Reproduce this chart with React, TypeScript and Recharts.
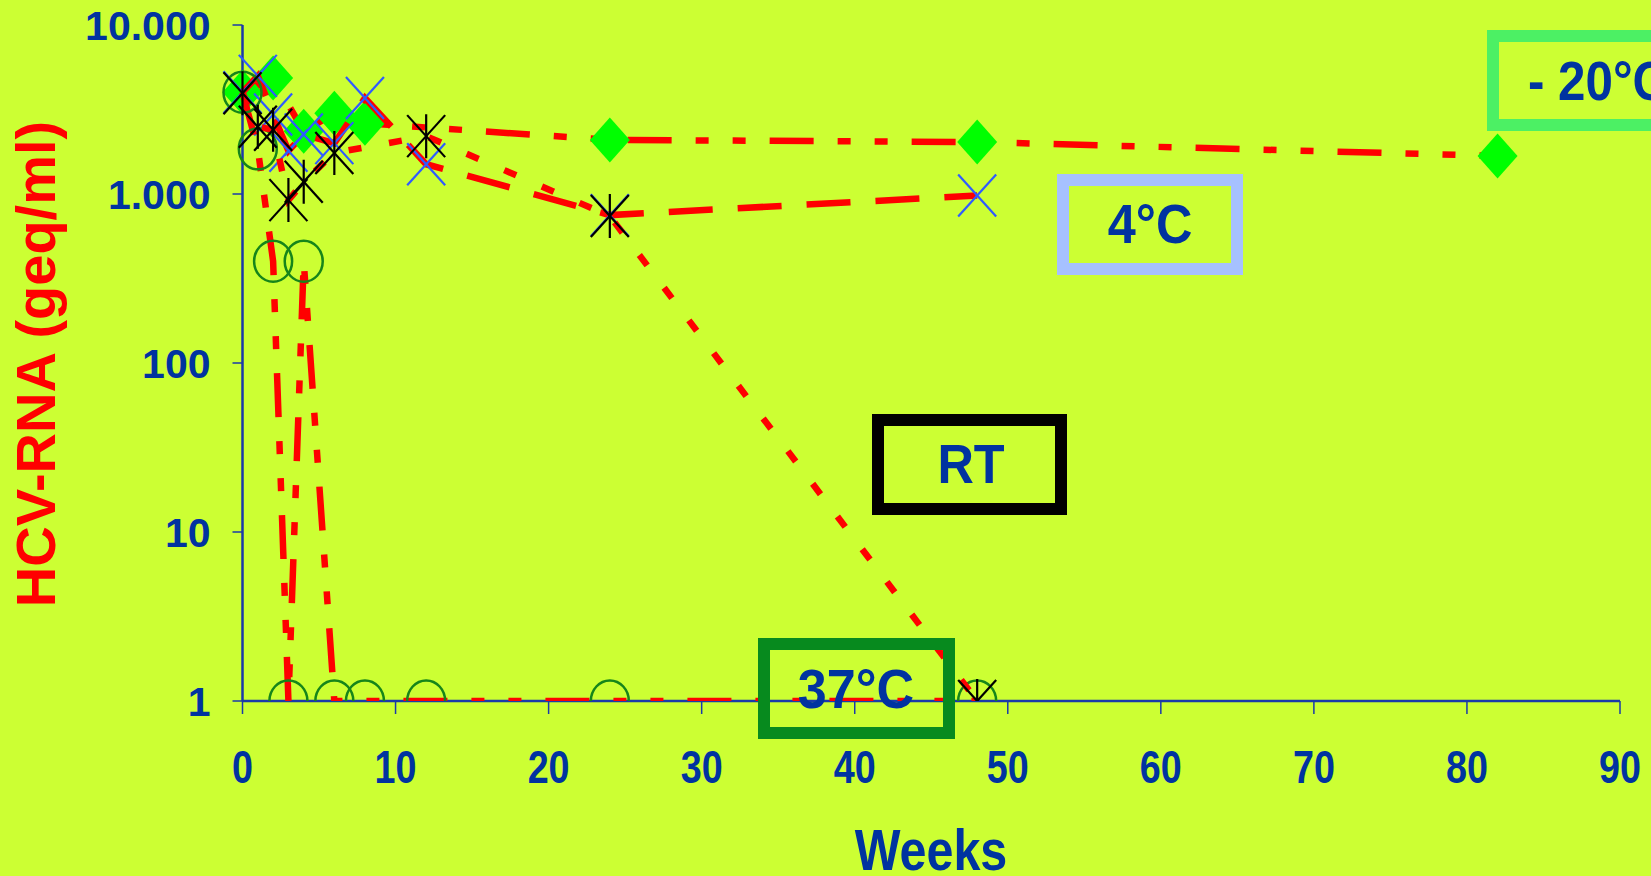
import React from 'react';
import { ScatterChart, Scatter, XAxis, YAxis } from 'recharts';

// weeks of storage and HCV-RNA (geq/ml) per temperature
const weeksMinus20 = [0, 2, 4, 6, 8, 24, 48, 82];
const rnaMinus20 = [4000, 4850, 2350, 3000, 2620, 2090, 2030, 1680];

const weeks4 = [0, 1, 2, 3, 4, 6, 8, 12, 24, 48];
const rna4 = [4000, 5000, 2950, 1800, 2250, 2000, 3700, 1500, 750, 980];

const weeksRT = [0, 1, 2, 3, 4, 6, 12, 24, 48];
const rnaRT = [3950, 2500, 2400, 920, 1180, 1750, 2200, 740, 1];

const weeks37 = [0, 1, 2, 3, 4, 6, 8, 12, 24, 48];
const rna37 = [4000, 1850, 400, 1, 400, 1, 1, 1, 1, 1];

const xTicks = [0, 10, 20, 30, 40, 50, 60, 70, 80, 90];
const yTicks = [1, 10, 100, 1000, 10000];

const toPoints = (weeks: number[], rna: number[]) =>
  weeks.map((w, i) => ({ week: w, rna: rna[i] }));

const BG = '#CCFF33';
const AXIS = '#1A3AAA';
const TEXT = '#0033A0';
const RED = '#FF0000';
const FONT = '"Liberation Sans", Arial, sans-serif';

const Diamond = (p: any) => {
  const { cx, cy } = p;
  return (
    <polygon
      points={`${cx},${cy - 22.5} ${cx + 20},${cy} ${cx},${cy + 22.5} ${cx - 20},${cy}`}
      fill="#00FF00"
    />
  );
};

const Cross = (p: any) => {
  const { cx, cy } = p;
  return (
    <g stroke="#2F5BFF" strokeWidth={2.2}>
      <line x1={cx - 19} y1={cy - 21} x2={cx + 19} y2={cy + 21} />
      <line x1={cx + 19} y1={cy - 21} x2={cx - 19} y2={cy + 21} />
    </g>
  );
};

const Star = (p: any) => {
  const { cx, cy } = p;
  return (
    <g stroke="#000000" strokeWidth={2.2}>
      <line x1={cx - 19} y1={cy - 21} x2={cx + 19} y2={cy + 21} />
      <line x1={cx + 19} y1={cy - 21} x2={cx - 19} y2={cy + 21} />
      <line x1={cx} y1={cy - 22} x2={cx} y2={cy + 22} />
    </g>
  );
};

const Ring = (p: any) => {
  const { cx, cy } = p;
  return <ellipse cx={cx} cy={cy} rx={19} ry={20.5} fill="none" stroke="#16851A" strokeWidth={2.5} />;
};

const XTick = (p: any) => {
  const { x, y, payload } = p;
  return (
    <g transform={`translate(${x},${y})`}>
      <text
        transform="scale(0.82,1)"
        textAnchor="middle"
        dy="0.71em"
        fontSize={46}
        fontWeight="bold"
        fontFamily={FONT}
        fill={TEXT}
      >
        {payload.value}
      </text>
    </g>
  );
};

const fmtY = (v: number) => String(v).replace(/\B(?=(\d{3})+(?!\d))/g, '.');

const boxText = {
  fontSize: 56,
  fontWeight: 'bold' as const,
  fontFamily: FONT,
  fill: TEXT,
};

export default function App() {
  return (
    <div
      style={{
        position: 'absolute',
        left: 0,
        top: 0,
        width: 1651,
        height: 876,
        background: BG,
        overflow: 'hidden',
      }}
    >
      <ScatterChart
        width={1651}
        height={876}
        margin={{ top: 25, right: 31, bottom: 75, left: 42.5 }}
      >
        <XAxis
          type="number"
          dataKey="week"
          domain={[0, 90]}
          ticks={xTicks}
          height={100}
          axisLine={{ stroke: AXIS, strokeWidth: 2.5 }}
          tickLine={{ stroke: AXIS, strokeWidth: 1.5 }}
          tickSize={13}
          tickMargin={36}
          tick={<XTick />}
        />
        <YAxis
          type="number"
          dataKey="rna"
          scale="log"
          domain={[1, 10000]}
          allowDataOverflow
          ticks={yTicks}
          width={200}
          axisLine={{ stroke: AXIS, strokeWidth: 2.5 }}
          tickLine={{ stroke: AXIS, strokeWidth: 1.5 }}
          tickSize={10}
          tickMargin={22}
          tickFormatter={fmtY}
          tick={{ fill: TEXT, fontSize: 41, fontWeight: 'bold', fontFamily: FONT }}
        />
        <Scatter
          data={toPoints(weeksMinus20, rnaMinus20)}
          fill={RED}
          line={{ stroke: RED, strokeWidth: 6.5, strokeDasharray: '44 24 13 24 13 24' }}
          shape={<Diamond />}
          isAnimationActive={false}
        />
        <Scatter
          data={toPoints(weeks4, rna4)}
          fill={RED}
          line={{ stroke: RED, strokeWidth: 6.5, strokeDasharray: '44 25' }}
          shape={<Cross />}
          isAnimationActive={false}
        />
        <Scatter
          data={toPoints(weeks37, rna37)}
          fill={RED}
          line={{ stroke: RED, strokeWidth: 6.5, strokeDasharray: '44 24 13 24 13 24' }}
          shape={<Ring />}
          isAnimationActive={false}
        />
        <Scatter
          data={toPoints(weeksRT, rnaRT)}
          fill={RED}
          line={{ stroke: RED, strokeWidth: 6.5, strokeDasharray: '13 28' }}
          shape={<Star />}
          isAnimationActive={false}
        />
      </ScatterChart>

      <svg
        width={1651}
        height={876}
        style={{ position: 'absolute', left: 0, top: 0, pointerEvents: 'none' }}
      >
        <text
          transform="translate(55,364) rotate(-90)"
          textAnchor="middle"
          fontSize={56}
          fontWeight="bold"
          fontFamily={FONT}
          fill={RED}
        >
          HCV-RNA (geq/ml)
        </text>
        <text
          transform="translate(931,870) scale(0.85,1)"
          textAnchor="middle"
          fontSize={57}
          fontWeight="bold"
          fontFamily={FONT}
          fill={TEXT}
        >
          Weeks
        </text>

        <rect x={1493} y={36} width={300} height={89} fill="none" stroke="#4CF064" strokeWidth={12} />
        <text transform="translate(1528,100) scale(0.88,1)" {...boxText}>
          - 20°C
        </text>

        <rect x={1063} y={180} width={174} height={89} fill="none" stroke="#A6C1FF" strokeWidth={12} />
        <text transform="translate(1150,243) scale(0.9,1)" textAnchor="middle" {...boxText}>
          4°C
        </text>

        <rect x={878} y={420} width={183} height={89} fill="none" stroke="#000000" strokeWidth={12} />
        <text transform="translate(971,483) scale(0.9,1)" textAnchor="middle" {...boxText}>
          RT
        </text>

        <rect x={764} y={644} width={185} height={89} fill="none" stroke="#078A1E" strokeWidth={12} />
        <text transform="translate(856,708) scale(0.93,1)" textAnchor="middle" {...boxText}>
          37°C
        </text>
      </svg>
    </div>
  );
}
